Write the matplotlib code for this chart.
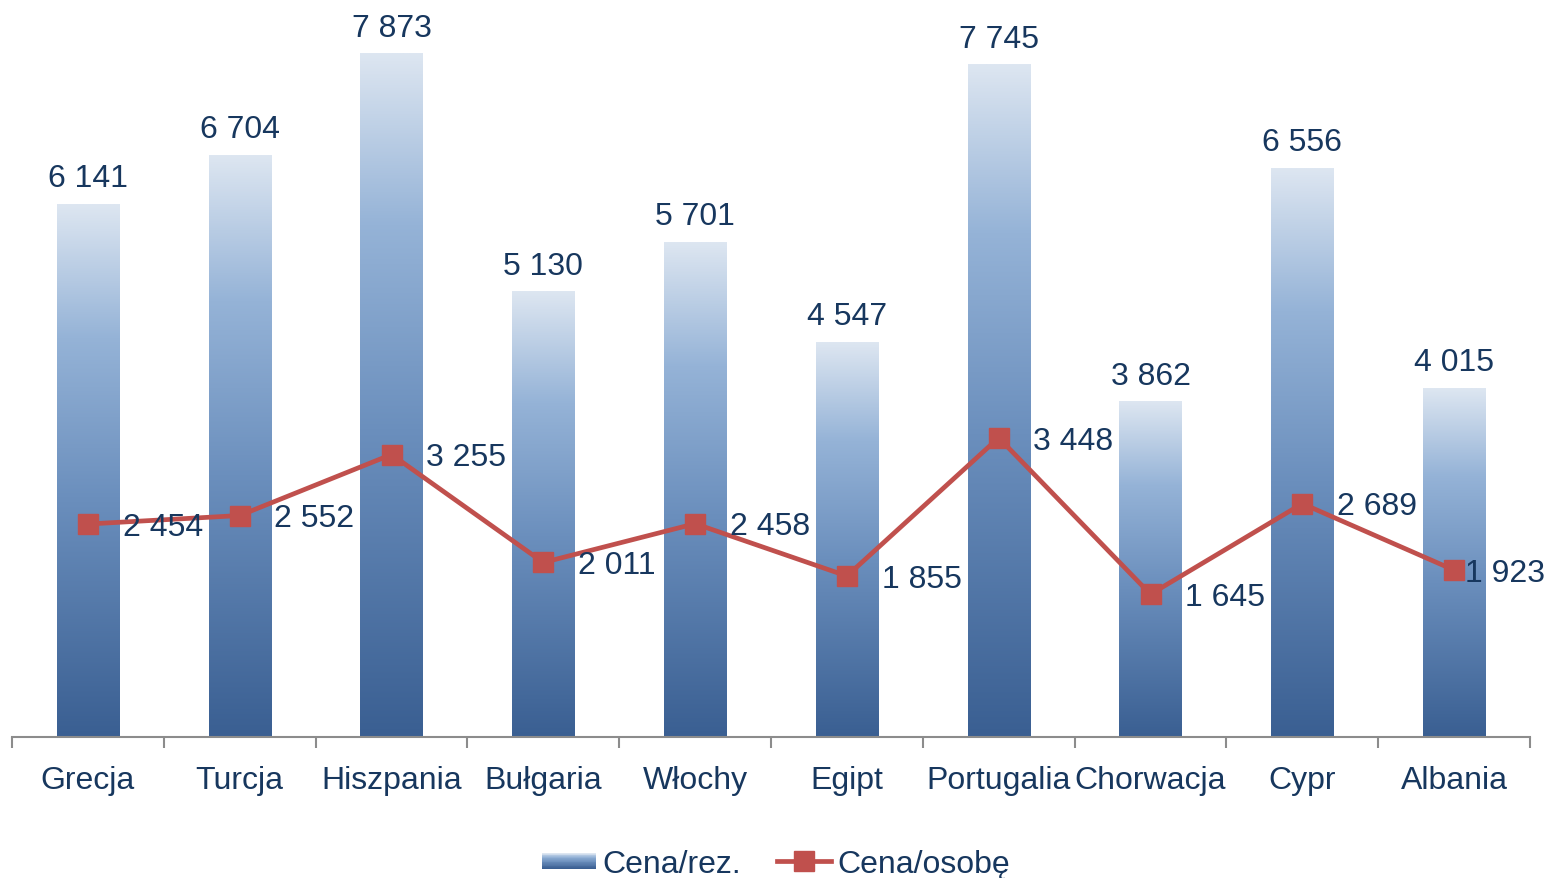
import numpy as np
import matplotlib
matplotlib.use("Agg")
import matplotlib.pyplot as plt
from matplotlib.colors import LinearSegmentedColormap
from matplotlib.legend_handler import HandlerBase
from matplotlib.patches import Rectangle
from matplotlib.lines import Line2D

# Data
countries = ["Grecja", "Turcja", "Hiszpania", "Bułgaria", "Włochy",
             "Egipt", "Portugalia", "Chorwacja", "Cypr", "Albania"]
price_per_booking = [6141, 6704, 7873, 5130, 5701, 4547, 7745, 3862, 6556, 4015]
price_per_person = [2454, 2552, 3255, 2011, 2458, 1855, 3448, 1645, 2689, 1923]

text_color = "#17375e"
line_color = "#c0504d"
fs = 23
plt.rcParams["font.family"] = ["Liberation Sans", "DejaVu Sans"]

# bottom -> top gradient like the Excel bars
grad = LinearSegmentedColormap.from_list(
    "bars", [(0.0, "#3a5f92"), (0.45, "#6b8fbd"), (0.75, "#95b3d7"), (1.0, "#dde6f1")])


def fmt(v):
    return f"{v:,}".replace(",", " ")


class GradientHandler(HandlerBase):
    def create_artists(self, legend, orig_handle, xdescent, ydescent,
                       width, height, fontsize, trans):
        n = 20
        arts = []
        h = height * 0.7
        y0 = -ydescent + (height - h) / 2
        for i in range(n):
            r = Rectangle((-xdescent, y0 + h * i / n), width, h / n + 0.05,
                          facecolor=grad(i / (n - 1)), edgecolor="none", transform=trans)
            arts.append(r)
        return arts


fig = plt.figure(figsize=(15.52, 8.79), dpi=100)
ax = fig.add_axes([12 / 1552, 141 / 879, 1518 / 1552, 729 / 879])

x = np.arange(len(countries))
bar_w = 0.41
grad_img = np.linspace(0, 1, 256).reshape(-1, 1)
for xi, v in zip(x, price_per_booking):
    ax.imshow(grad_img, cmap=grad, origin="lower", aspect="auto",
              extent=[xi - bar_w / 2, xi + bar_w / 2, 0, v], zorder=2)
    ax.annotate(fmt(v), (xi, v), xytext=(0, 8), textcoords="offset points",
                ha="center", va="bottom", fontsize=fs, color=text_color)

ax.plot(x, price_per_person, color=line_color, lw=3.4, marker="s", ms=14,
        zorder=3)
for i, (xi, v) in enumerate(zip(x, price_per_person)):
    # the last label is pulled in so it stays inside the chart
    dx = 25 if i < len(x) - 1 else 8
    ax.annotate(fmt(v), (xi, v), xytext=(dx, -2), textcoords="offset points",
                ha="left", va="center", fontsize=fs, color=text_color, zorder=4)

ax.set_xlim(-0.5, len(countries) - 0.5)
ax.set_ylim(0, 8400)
for s in ["top", "right", "left"]:
    ax.spines[s].set_visible(False)
ax.spines["bottom"].set_color("#8c8c8c")
ax.spines["bottom"].set_linewidth(1.5)
ax.set_yticks([])
ax.set_xticks(x)
ax.set_xticklabels(countries, fontsize=fs, color=text_color)
ax.tick_params(axis="x", which="major", length=0, pad=20)
ax.set_xticks(np.arange(-0.5, len(countries)), minor=True)
ax.tick_params(axis="x", which="minor", length=8, width=1.5, color="#8c8c8c",
               direction="out")

bar_handle = Rectangle((0, 0), 1, 1)
line_handle = Line2D([], [], color=line_color, lw=3.4, marker="s", ms=14)
fig.legend([bar_handle, line_handle], ["Cena/rez.", "Cena/osobę"],
           handler_map={Rectangle: GradientHandler()},
           loc="center", bbox_to_anchor=(776 / 1552, 1 - 865 / 879), ncol=2,
           frameon=False, fontsize=fs, labelcolor=text_color,
           handlelength=1.7, handletextpad=0.2, columnspacing=1.1)

fig.savefig("out.png", dpi=100)
